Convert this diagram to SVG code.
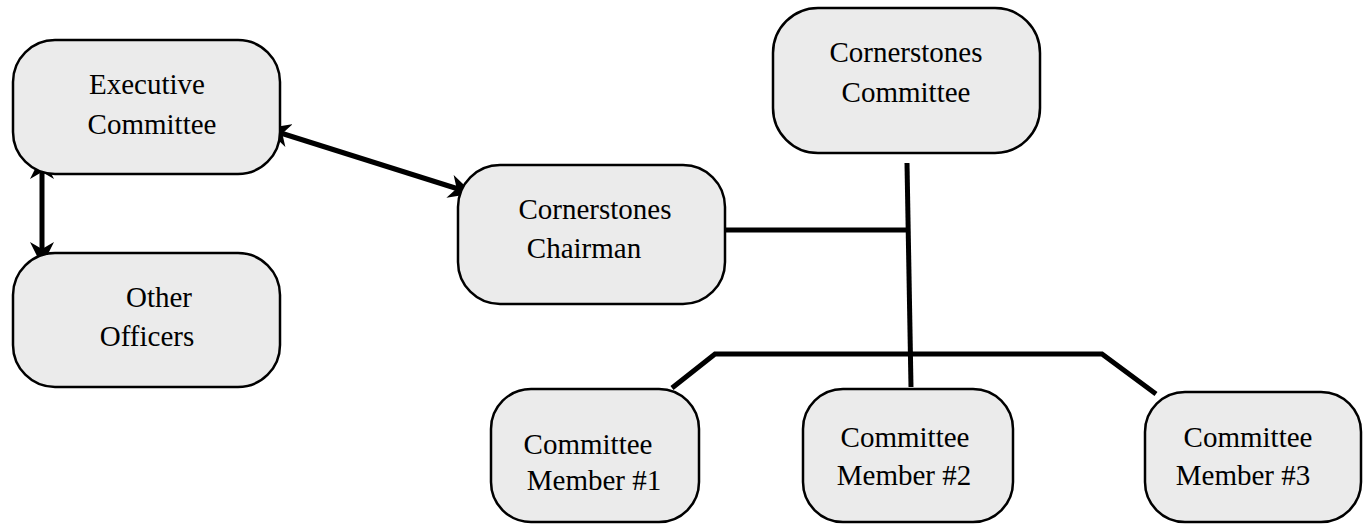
<svg xmlns="http://www.w3.org/2000/svg" width="1368" height="524" viewBox="0 0 1368 524">
<style>
.box{fill:#ebebeb;stroke:#000;stroke-width:2.5}
.t{font-family:"Liberation Serif","Times New Roman",serif;font-size:29px;fill:#000;text-anchor:middle}
.ln{stroke:#000;stroke-width:5;fill:none}
.ar{stroke:#000;stroke-width:5;fill:none;marker-start:url(#ah);marker-end:url(#ah)}
</style>
<defs>
<marker id="ah" viewBox="0 0 24 24" refX="22" refY="12" markerWidth="24" markerHeight="24" markerUnits="userSpaceOnUse" orient="auto-start-reverse">
<path d="M0,0 L24,12 L0,24 L7,12 Z" fill="#000"/>
</marker>
</defs>
<g id="connectors">
<line class="ar" x1="42" y1="157" x2="42" y2="264"/>
<line class="ar" x1="268" y1="129" x2="471" y2="193"/>
<line class="ln" x1="718" y1="230" x2="909" y2="230"/>
<line class="ln" x1="907" y1="163" x2="911" y2="387"/>
<polyline class="ln" points="672,388 715,354 1102,354 1156,394"/>
</g>
<g id="executive">
<rect class="box" x="13" y="40" width="267" height="134" rx="42"/>
<text class="t" x="147" y="94">Executive</text>
<text class="t" x="152" y="134">Committee</text>
</g>
<g id="officers">
<rect class="box" x="13" y="253" width="267" height="134" rx="42"/>
<text class="t" x="159" y="307">Other</text>
<text class="t" x="147" y="346">Officers</text>
</g>
<g id="chairman">
<rect class="box" x="458" y="165" width="267" height="139" rx="42"/>
<text class="t" x="595" y="219">Cornerstones</text>
<text class="t" x="584" y="258">Chairman</text>
</g>
<g id="cornerstones-committee">
<rect class="box" x="773" y="8" width="267" height="145" rx="45"/>
<text class="t" x="906" y="62">Cornerstones</text>
<text class="t" x="906" y="102">Committee</text>
</g>
<g id="member1">
<rect class="box" x="491" y="389" width="208" height="133" rx="40"/>
<text class="t" x="588" y="454">Committee</text>
<text class="t" x="594" y="490">Member #1</text>
</g>
<g id="member2">
<rect class="box" x="803" y="389" width="210" height="133" rx="40"/>
<text class="t" x="905" y="447">Committee</text>
<text class="t" x="904" y="485">Member #2</text>
</g>
<g id="member3">
<rect class="box" x="1145" y="392" width="216" height="130" rx="40"/>
<text class="t" x="1248" y="447">Committee</text>
<text class="t" x="1243" y="485">Member #3</text>
</g>
</svg>
